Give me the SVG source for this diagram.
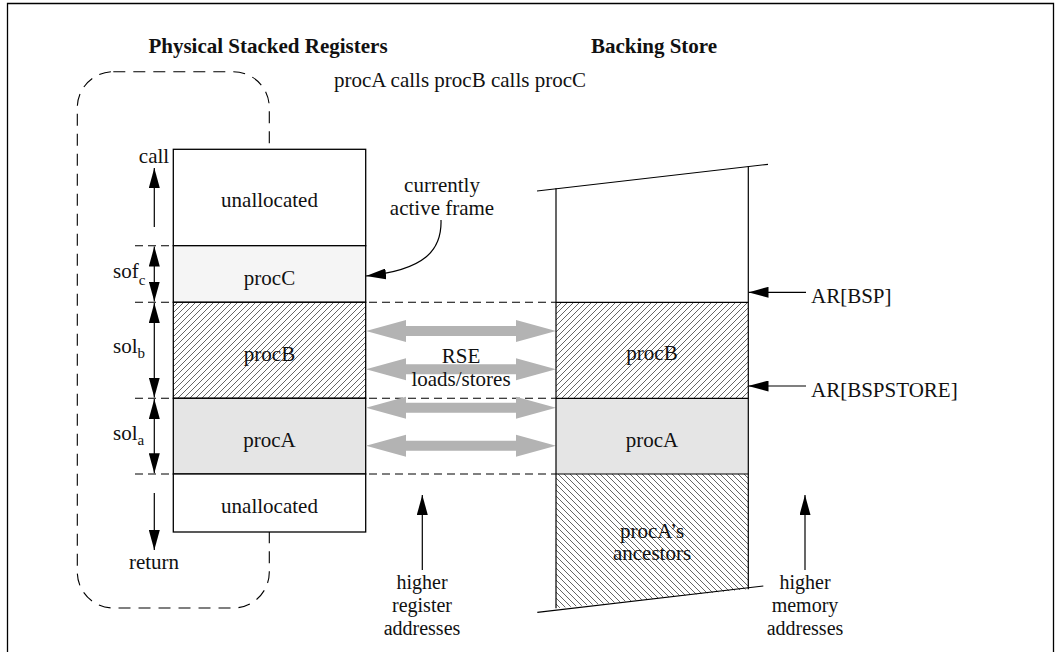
<svg xmlns="http://www.w3.org/2000/svg" width="1057" height="652" viewBox="0 0 1057 652">
<style>
text{font-family:"Liberation Serif","Times New Roman",serif;font-size:21px;fill:#111}
.b{font-weight:bold}
.m{text-anchor:middle}
.sub{font-size:15px}
.sm{font-size:20px}
.box{stroke:#000;stroke-width:1.3}
.ln{stroke:#000;stroke-width:1.2;fill:none}
.dash{stroke:#000;stroke-width:1.1;stroke-dasharray:8 5;fill:none}
.arr{stroke:#000;stroke-width:1.2;fill:none;marker-end:url(#ah)}
.darr{stroke:#000;stroke-width:1.2;fill:none;marker-end:url(#ah);marker-start:url(#ah)}
.rse{fill:#b3b3b3}
</style>
<defs>
<marker id="ah" markerUnits="userSpaceOnUse" markerWidth="20" markerHeight="11" refX="20" refY="5.5" orient="auto-start-reverse" viewBox="0 0 20 11">
<path d="M0,0 L20,5.5 L0,11 z" fill="#000"/>
</marker>
<pattern id="hf" width="6" height="6" patternUnits="userSpaceOnUse">
<rect width="6" height="6" fill="#fff"/>
<path d="M-1,7 L7,-1 M-1,1 L1,-1 M5,7 L7,5" stroke="#555" stroke-width="0.9"/>
</pattern>
<pattern id="hb" width="6" height="6" patternUnits="userSpaceOnUse">
<rect width="6" height="6" fill="#fff"/>
<path d="M-1,-1 L7,7 M5,-1 L7,1 M-1,5 L1,7" stroke="#555" stroke-width="0.9"/>
</pattern>
</defs>
<rect width="1057" height="652" fill="#fff"/>
<path d="M7.5,652 V3.5 H1053.5 V652" fill="none" stroke="#000" stroke-width="1.3"/>

<g id="titles">
<text class="b m" x="268" y="53">Physical Stacked Registers</text>
<text class="b m" x="654" y="53">Backing Store</text>
<text class="m" x="460" y="87">procA calls procB calls procC</text>
</g>

<g id="region-dashed">
<rect x="77.3" y="71.7" width="192" height="536.3" rx="36" ry="36" fill="none" stroke="#000" stroke-width="1.1" stroke-dasharray="12 8"/>
</g>

<g id="connectors">
<line class="dash" x1="135" y1="245.7" x2="173" y2="245.7"/>
<line class="dash" x1="135" y1="302.3" x2="556" y2="302.3"/>
<line class="dash" x1="135" y1="398.3" x2="556" y2="398.3"/>
<line class="dash" x1="135" y1="474" x2="556" y2="474"/>
<line class="arr" x1="154.3" y1="227" x2="154.3" y2="168"/>
<line class="darr" x1="154.3" y1="246.5" x2="154.3" y2="301.5"/>
<line class="darr" x1="154.3" y1="303" x2="154.3" y2="397.5"/>
<line class="darr" x1="154.3" y1="399" x2="154.3" y2="473.3"/>
<line class="arr" x1="154.3" y1="493" x2="154.3" y2="550"/>
<path class="arr" d="M441,220 C442,250 425,270 366,276"/>
<line class="arr" x1="806" y1="292.3" x2="748.5" y2="292.3"/>
<line class="arr" x1="806" y1="386" x2="748.5" y2="386"/>
<line class="arr" x1="422.3" y1="570" x2="422.3" y2="495"/>
<line class="arr" x1="805" y1="570" x2="805" y2="495"/>
</g>

<g id="registers">
<rect class="box" x="173.3" y="149.3" width="192.4" height="96.4" fill="#fff"/>
<rect class="box" x="173.3" y="245.7" width="192.4" height="56.6" fill="#f5f5f5"/>
<rect class="box" x="173.3" y="302.3" width="192.4" height="96" fill="url(#hf)"/>
<rect class="box" x="173.3" y="398.3" width="192.4" height="75.7" fill="#e5e5e5"/>
<rect class="box" x="173.3" y="474" width="192.4" height="58" fill="#fff"/>
<text class="m" x="269.5" y="207">unallocated</text>
<text class="m" x="269.5" y="285">procC</text>
<text class="m" x="269.5" y="361">procB</text>
<text class="m" x="269.5" y="447">procA</text>
<text class="m" x="269.5" y="513">unallocated</text>
</g>

<g id="reg-labels">
<text class="m" x="154" y="163">call</text>
<text x="113" y="278">sof<tspan class="sub" dy="7">c</tspan></text>
<text x="113" y="353">sol<tspan class="sub" dy="5">b</tspan></text>
<text x="113" y="440">sol<tspan class="sub" dy="5">a</tspan></text>
<text class="m" x="154" y="569">return</text>
</g>

<g id="rse">
<polygon class="rse" points="366,331 406,320 406,326 516,326 516,320 556,331 516,342 516,336 406,336 406,342"/>
<polygon class="rse" points="366,369.3 406,358.3 406,364.3 516,364.3 516,358.3 556,369.3 516,380.3 516,374.3 406,374.3 406,380.3"/>
<polygon class="rse" points="366,407.7 406,396.7 406,402.7 516,402.7 516,396.7 556,407.7 516,418.7 516,412.7 406,412.7 406,418.7"/>
<polygon class="rse" points="366,445.7 406,434.7 406,440.7 516,440.7 516,434.7 556,445.7 516,456.7 516,450.7 406,450.7 406,456.7"/>
<text class="m" x="461" y="363">RSE</text>
<text class="m" x="461" y="386">loads/stores</text>
</g>

<g id="active-label">
<text class="m" x="442" y="192">currently</text>
<text class="m" x="442" y="215">active frame</text>
</g>

<g id="backing-store">
<rect x="556" y="302.3" width="192.3" height="96" fill="url(#hf)"/>
<rect x="556" y="398.3" width="192.3" height="75.7" fill="#e5e5e5"/>
<polygon points="556,474 748.3,474 748.3,589.3 556,608.3" fill="url(#hb)"/>
<line class="ln" x1="537" y1="191" x2="768" y2="164.3"/>
<line class="ln" x1="537.3" y1="612.3" x2="763.3" y2="586"/>
<line class="ln" x1="556" y1="188.3" x2="556" y2="608.3"/>
<line class="ln" x1="748.3" y1="166.7" x2="748.3" y2="589.3"/>
<line class="ln" x1="556" y1="302.3" x2="748.3" y2="302.3"/>
<line class="ln" x1="556" y1="398.3" x2="748.3" y2="398.3"/>
<line class="ln" x1="556" y1="474" x2="748.3" y2="474"/>
<text class="m" x="652" y="360">procB</text>
<text class="m" x="652" y="447">procA</text>
<text class="m" x="652" y="538">procA’s</text>
<text class="m" x="652" y="560">ancestors</text>
</g>

<g id="pointers">
<text x="811" y="303">AR[BSP]</text>
<text x="811" y="397">AR[BSPSTORE]</text>
</g>

<g id="addr-labels">
<text class="m sm" x="422" y="589">higher</text>
<text class="m sm" x="422" y="612">register</text>
<text class="m sm" x="422" y="635">addresses</text>
<text class="m sm" x="805" y="589">higher</text>
<text class="m sm" x="805" y="612">memory</text>
<text class="m sm" x="805" y="635">addresses</text>
</g>
</svg>
